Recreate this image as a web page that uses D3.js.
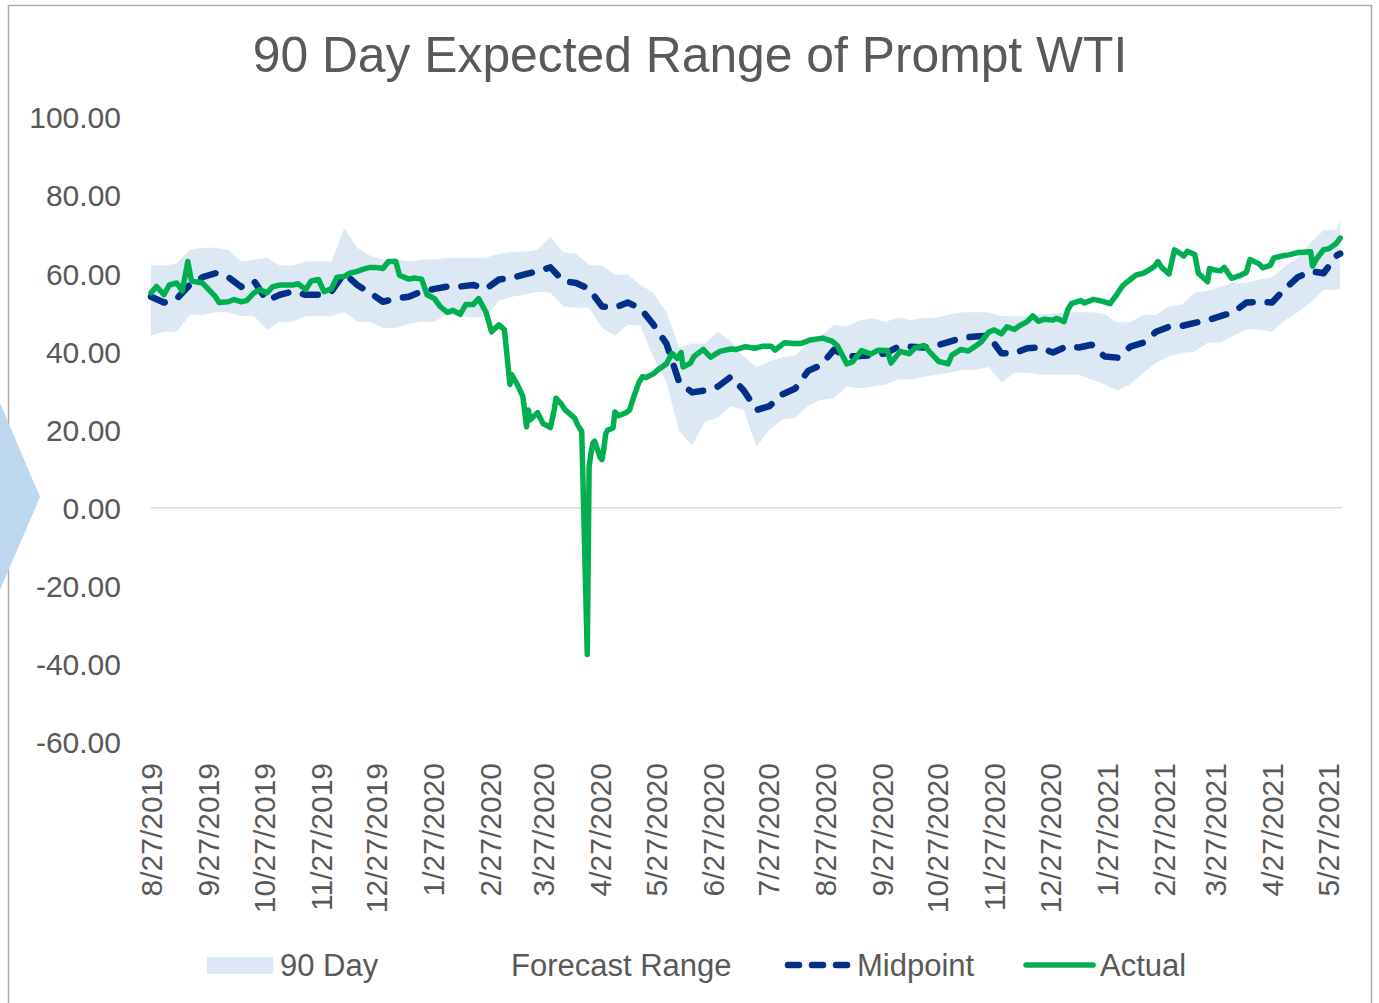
<!DOCTYPE html>
<html><head><meta charset="utf-8">
<script src="https://cdn.jsdelivr.net/npm/d3@7"></script>
<style>
body{margin:0;background:#fff}
svg{display:block}
text{font-family:"Liberation Sans",Arial,Helvetica,sans-serif;fill:#595959}
</style>
</head><body>
<svg id="c" width="1379" height="1003"></svg>
<script>
// ---------- DATA ----------
const title = "90 Day Expected Range of Prompt WTI";
const yTicks = [-60,-40,-20,0,20,40,60,80,100];
const xTickDates = ["2019-08-27","2019-09-27","2019-10-27","2019-11-27","2019-12-27","2020-01-27","2020-02-27","2020-03-27","2020-04-27","2020-05-27","2020-06-27","2020-07-27","2020-08-27","2020-09-27","2020-10-27","2020-11-27","2020-12-27","2021-01-27","2021-02-27","2021-03-27","2021-04-27","2021-05-27"];

// band / midpoint sampled weekly from 2019-08-27, last value 2021-06-03
const bandStart = "2019-08-27";
const bandEnd = "2021-06-03";
const midpoint = [54,52.5,53.5,57,59,60,59,56.5,58,53,
 54.5,55.3,54.5,54.5,55.3,60,57,55,52.7,53.5,
 54,55.3,56,56.6,56.6,57,56,58.4,58.8,59.7,
 60.5,61.5,58,57.5,56,51.5,51.2,52.5,51,46.8,
 42,32,29.5,30,31,33.5,30,25,26,29,
 30.5,35,36.5,40.4,38.7,38.8,39,39.5,41.2,41.2,
 41,41.5,42.5,43.5,43.8,44,39.5,39.5,40.8,41,
 39.7,41.2,41,41.7,38.7,38.4,41.2,42.2,45,46.3,
 46.5,47.3,48,49,50,52.5,52.7,52.5,56,59,
 60.5,60,64.5,65];
const upper = [62,62,62.5,66,66.5,66.5,66,63,63.5,64,
 62,62,63,63,63,71.5,66.5,64.5,63.5,63.5,
 63,63.5,63.5,64,64,64,64,65,65.5,65.5,
 66,69.4,65.3,65,62.2,62,59.7,59.7,57,55,
 50,41,42,42,45,42.5,38.7,36,37.5,38.5,
 39,42,44,46.8,46.5,48,48.5,47.6,48.6,48,
 48.6,48.6,49.5,50,50,50,49,49,49,49.4,
 49.7,50,50,50,49.5,47.3,47.5,49.4,49.4,51.5,
 52,55,55.5,56.6,57.6,57.6,58.4,59,61.7,64.2,
 67.8,71,71,74];
const lower = [44,45,45,49.4,49.4,50,50,49,49,45.5,
 47.6,47.6,49,49,49,50,47.6,47.6,46,46,
 47,47.6,47.6,49.5,49,48.6,49,53,54,54.5,
 55.3,55,51.5,51.2,51.2,46,44,46.8,46.5,38.4,
 32,19.5,16,22,23,26,25,15.6,20,22.5,
 23,26,27.6,28,31,30.5,31,31.5,32.8,32.8,
 33.5,34,34.5,35.3,35.3,36,32,34.5,34.5,34,
 34,34,34,32.8,31.5,30,31.5,34.5,37,38.7,
 39.6,40,42.2,42.2,44,45.6,45.6,45,48,50,
 52.5,55.8,55.8,56];

const actualDates = ["2019-08-27","2019-08-30","2019-09-03","2019-09-06","2019-09-10","2019-09-13","2019-09-16","2019-09-18","2019-09-24","2019-09-27",
 "2019-10-01","2019-10-03","2019-10-08","2019-10-11","2019-10-15","2019-10-18","2019-10-22","2019-10-25","2019-10-29","2019-11-01",
 "2019-11-05","2019-11-08","2019-11-12","2019-11-15","2019-11-19","2019-11-22","2019-11-26","2019-11-29","2019-12-03","2019-12-06",
 "2019-12-10","2019-12-13","2019-12-17","2019-12-20","2019-12-24","2019-12-27","2019-12-31","2020-01-03","2020-01-07","2020-01-09",
 "2020-01-14","2020-01-17","2020-01-21","2020-01-24","2020-01-28","2020-01-31","2020-02-04","2020-02-07","2020-02-11","2020-02-14",
 "2020-02-18","2020-02-21","2020-02-25","2020-02-28","2020-03-03","2020-03-06","2020-03-09","2020-03-10","2020-03-13","2020-03-16",
 "2020-03-18","2020-03-19","2020-03-20","2020-03-24","2020-03-27","2020-03-31","2020-04-02","2020-04-03","2020-04-06","2020-04-08",
 "2020-04-13","2020-04-15","2020-04-17","2020-04-20","2020-04-21","2020-04-22","2020-04-23","2020-04-24","2020-04-27","2020-04-28",
 "2020-04-29","2020-04-30","2020-05-01","2020-05-04","2020-05-05","2020-05-07","2020-05-11","2020-05-13","2020-05-15","2020-05-18",
 "2020-05-20","2020-05-22","2020-05-26","2020-05-29","2020-06-02","2020-06-05","2020-06-08","2020-06-10","2020-06-11","2020-06-15",
 "2020-06-17","2020-06-22","2020-06-25","2020-06-26","2020-07-01","2020-07-07","2020-07-10","2020-07-15","2020-07-20","2020-07-24",
 "2020-07-29","2020-07-31","2020-08-05","2020-08-10","2020-08-14","2020-08-19","2020-08-26","2020-08-31","2020-09-03","2020-09-08",
 "2020-09-11","2020-09-16","2020-09-21","2020-09-25","2020-09-30","2020-10-02","2020-10-07","2020-10-12","2020-10-15","2020-10-20",
 "2020-10-23","2020-10-28","2020-11-02","2020-11-04","2020-11-09","2020-11-13","2020-11-17","2020-11-20","2020-11-24","2020-11-27",
 "2020-12-01","2020-12-04","2020-12-08","2020-12-11","2020-12-15","2020-12-18","2020-12-21","2020-12-24","2020-12-29","2020-12-31",
 "2021-01-04","2021-01-06","2021-01-08","2021-01-13","2021-01-15","2021-01-20","2021-01-25","2021-01-29","2021-02-02","2021-02-05",
 "2021-02-09","2021-02-12","2021-02-16","2021-02-18","2021-02-22","2021-02-24","2021-02-26","2021-03-02","2021-03-05","2021-03-08",
 "2021-03-10","2021-03-12","2021-03-16","2021-03-18","2021-03-23","2021-03-24","2021-03-26","2021-03-30","2021-04-01","2021-04-05",
 "2021-04-09","2021-04-13","2021-04-15","2021-04-20","2021-04-22","2021-04-26","2021-04-28","2021-05-03","2021-05-06","2021-05-11",
 "2021-05-14","2021-05-18","2021-05-19","2021-05-21","2021-05-25","2021-05-28","2021-06-01","2021-06-03"];
const actual = [55,56.6,54.5,57,57.5,55.5,63,58,57.5,56,
 54,52.5,52.7,53.3,52.7,53,55,55.8,55,56.5,
 57,57,57,57.3,55.8,58,58.4,55.3,56,59,
 59.2,60,60.5,61,61.5,61.5,61.2,63,63,59.5,
 58.5,58.8,58.5,54.5,53.5,51.5,50,50.5,49.5,52,
 52,53.5,50,45,46.8,45.5,31.5,34,31.5,28.5,
 20.7,25,22.5,24.3,21.5,20.5,25,28,26.5,25,
 23,21,19.5,-37.6,10.5,13.8,16.5,17,12.8,12.3,
 15,18.8,19.8,20.4,24.5,23.5,24.3,25,28,32,
 33.5,33.3,34.3,35.5,36.8,39.5,38.2,39.7,36,37,
 38.7,40.5,39,38.5,40,40.6,40.5,41.2,40.8,41.3,
 41.3,40.3,42.2,42,42,42.9,43.4,42.6,41.4,36.8,
 37.3,40.2,39.3,40.3,40.2,37,40,39.4,40.9,41.5,
 39.9,37.4,36.8,39,40.5,40.1,41.4,42.4,44.9,45.5,
 44.5,46.3,45.6,46.6,47.6,49.1,47.7,48.2,48,48.5,
 47.6,50.6,52.2,53,52.4,53.3,52.8,52.2,54.8,56.9,
 58.4,59.5,60,60.5,61.7,63,61.5,59.8,66,65.1,
 64.4,65.6,64.8,60,57.8,61.2,60.9,60.6,61.5,58.7,
 59.3,60.2,63.5,62.4,61.4,62,63.9,64.5,64.7,65.3,
 65.4,65.5,61.8,63.6,66,66.3,67.7,69];

const legendNames = ["90 Day", "Forecast Range", "Midpoint", "Actual"];

// ---------- CHART ----------
const parse = d3.timeParse("%Y-%m-%d");
const fmtDate = d => `${d.getMonth()+1}/${d.getDate()}/${d.getFullYear()}`;
const colBand = "#dce9f5", colMid = "#003087", colAct = "#00b050";

const t0 = parse(bandStart);
const bandDates = midpoint.map((_, i) => i < midpoint.length - 1 ? d3.timeDay.offset(t0, 7 * i) : parse(bandEnd));
const band = bandDates.map((d, i) => ({d, mid: midpoint[i], hi: upper[i], lo: lower[i]}));
const act = actualDates.map((s, i) => ({d: parse(s), v: actual[i]}));

const svg = d3.select("#c");
const x = d3.scaleTime().domain([parse("2019-08-27"), parse("2021-06-04")]).range([151, 1342]);
const y = d3.scaleLinear().domain([-60, 100]).range([742, 117]);

// frame
svg.append("rect").attr("x", 8.5).attr("y", 5.5).attr("width", 1363).attr("height", 1010)
  .attr("fill", "none").attr("stroke", "#ababab").attr("stroke-width", 1.5);

// title
svg.append("text").attr("x", 690).attr("y", 72).attr("text-anchor", "middle")
  .attr("font-size", 49.8).text(title);

// band
svg.append("path").datum(band)
  .attr("fill", colBand)
  .attr("d", d3.area().x(d => x(d.d)).y0(d => y(d.lo)).y1(d => y(d.hi)));

// zero line
svg.append("line").attr("x1", x(parse("2019-08-27"))).attr("x2", 1342)
  .attr("y1", y(0)).attr("y2", y(0)).attr("stroke", "#d9d9d9").attr("stroke-width", 1.5);

// y axis
const gy = svg.append("g").attr("transform", "translate(131,0)")
  .call(d3.axisLeft(y).tickValues(yTicks).tickSize(0).tickPadding(10).tickFormat(v => v.toFixed(2)));
gy.select(".domain").remove();
gy.selectAll("text").attr("font-size", 30).attr("font-family", null).attr("fill", "#595959").attr("dy", "0.36em");

// x axis
const gx = svg.append("g").attr("transform", `translate(0,${y(-60)})`)
  .call(d3.axisBottom(x).tickValues(xTickDates.map(parse)).tickSize(0).tickFormat(fmtDate));
gx.select(".domain").remove();
gx.selectAll("text").attr("font-size", 30).attr("font-family", null).attr("fill", "#595959")
  .attr("text-anchor", "end").attr("transform", "rotate(-90)")
  .attr("x", -21).attr("y", 0).attr("dy", "0.36em");

// midpoint
svg.append("path").datum(band)
  .attr("fill", "none").attr("stroke", colMid).attr("stroke-width", 6.5)
  .attr("stroke-dasharray", "15,15").attr("stroke-linecap", "round").attr("stroke-linejoin", "round")
  .attr("d", d3.line().x(d => x(d.d)).y(d => y(d.mid)));

// actual
svg.append("path").datum(act)
  .attr("fill", "none").attr("stroke", colAct).attr("stroke-width", 5.5)
  .attr("stroke-linejoin", "round").attr("stroke-linecap", "round")
  .attr("d", d3.line().x(d => x(d.d)).y(d => y(d.v)));

// legend
const ly = 965, lb = 976;
svg.append("rect").attr("x", 207).attr("y", 957).attr("width", 66).attr("height", 17).attr("fill", colBand);
svg.append("text").attr("x", 280).attr("y", lb).attr("font-size", 31).text(legendNames[0]);
svg.append("text").attr("x", 511).attr("y", lb).attr("font-size", 31).text(legendNames[1]);
svg.append("line").attr("x1", 788).attr("x2", 848).attr("y1", ly).attr("y2", ly)
  .attr("stroke", colMid).attr("stroke-width", 6.5).attr("stroke-dasharray", "11,13").attr("stroke-linecap", "round");
svg.append("text").attr("x", 857).attr("y", lb).attr("font-size", 31).text(legendNames[2]);
svg.append("line").attr("x1", 1026).attr("x2", 1093).attr("y1", ly).attr("y2", ly)
  .attr("stroke", colAct).attr("stroke-width", 5.5).attr("stroke-linecap", "round");
svg.append("text").attr("x", 1100).attr("y", lb).attr("font-size", 31).text(legendNames[3]);

// decorative chevron at left edge
svg.append("polygon").attr("points", "0,403 40,497 0,590").attr("fill", "#bdd7ee");
</script>
</body></html>
